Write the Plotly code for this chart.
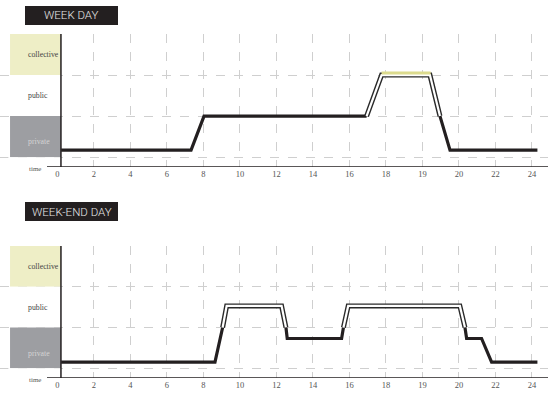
import plotly.graph_objects as go

# ---------------- data (x in axis units, y in level units) ----------------
tick_vals = [0, 2, 4, 6, 8, 10, 12, 14, 16, 18, 20, 22, 24, 26]
tick_text = ["0", "2", "4", "6", "8", "10", "12", "14", "16", "18", "19", "20", "22", "24"]
level_names = ["private", "public", "collective"]

# WEEK DAY
wd_solid1_x = [0.2, 7.32, 8.03, 16.94]
wd_solid1_y = [0.17, 0.17, 1.0, 1.0]
wd_double_x = [16.94, 17.76, 20.41, 20.96]
wd_double_y = [1.0, 2.0, 2.0, 1.0]
wd_solid2_x = [20.96, 21.51, 26.3]
wd_solid2_y = [1.0, 0.17, 0.17]
wd_coll_x = [17.76, 20.45]
wd_coll_y = [2.05, 2.05]

# WEEK-END DAY
we_solid1_x = [0.2, 8.63, 9.05]
we_solid1_y = [0.15, 0.15, 1.0]
we_double1_x = [9.05, 9.27, 12.28, 12.52]
we_double1_y = [1.0, 1.53, 1.53, 1.0]
we_solid2_x = [12.52, 12.59, 15.57, 15.67]
we_solid2_y = [1.0, 0.73, 0.73, 1.0]
we_double2_x = [15.67, 15.93, 22.05, 22.33]
we_double2_y = [1.0, 1.53, 1.53, 1.0]
we_solid3_x = [22.33, 22.42, 23.24, 23.79, 26.3]
we_solid3_y = [1.0, 0.73, 0.73, 0.15, 0.15]

# ---------------- styling ----------------
W, H = 548, 395
BLACK = "#231f20"
GRID = "#cfcfcf"
COLL = "#eeeec6"
PRIV = "#9d9ea2"
YEL = "#dcdb8e"
XMIN, XMAX = -3.15, 26.88
YMIN, YMAX = -0.24, 3.0
SERIF = "Liberation Serif, DejaVu Serif, serif"

def py(px):
    return 1 - px / H

fig = go.Figure()

def solid(x, y, xa, ya):
    fig.add_trace(go.Scatter(x=x, y=y, mode="lines", xaxis=xa, yaxis=ya,
                             line=dict(color=BLACK, width=3.2), hoverinfo="skip",
                             showlegend=False))

def double(x, y, xa, ya):
    fig.add_trace(go.Scatter(x=x, y=y, mode="lines", xaxis=xa, yaxis=ya,
                             line=dict(color="#2a2a2a", width=5), hoverinfo="skip",
                             showlegend=False))
    fig.add_trace(go.Scatter(x=x, y=y, mode="lines", xaxis=xa, yaxis=ya,
                             line=dict(color="white", width=2.2), hoverinfo="skip",
                             showlegend=False))

# week day
solid(wd_solid1_x, wd_solid1_y, "x", "y")
double(wd_double_x, wd_double_y, "x", "y")
solid(wd_solid2_x, wd_solid2_y, "x", "y")
fig.add_trace(go.Scatter(x=wd_coll_x, y=wd_coll_y, mode="lines", xaxis="x", yaxis="y",
                         line=dict(color=YEL, width=3), hoverinfo="skip", showlegend=False))
# week-end day
solid(we_solid1_x, we_solid1_y, "x2", "y2")
double(we_double1_x, we_double1_y, "x2", "y2")
solid(we_solid2_x, we_solid2_y, "x2", "y2")
double(we_double2_x, we_double2_y, "x2", "y2")
solid(we_solid3_x, we_solid3_y, "x2", "y2")

tickfont = dict(family=SERIF, size=8.5, color="#555")
xcommon = dict(range=[XMIN, XMAX], tickmode="array", tickvals=tick_vals, ticktext=tick_text,
               showgrid=True, gridcolor=GRID, griddash="dash", gridwidth=1,
               showline=False, zeroline=False, ticks="", tickfont=tickfont, fixedrange=True)
ycommon = dict(range=[YMIN, YMAX], tickmode="array", tickvals=[0, 1, 2, 3],
               showgrid=True, gridcolor=GRID, griddash="dash", gridwidth=1,
               showticklabels=False, showline=False, zeroline=False, ticks="", fixedrange=True)

fig.update_layout(
    width=W, height=H, margin=dict(l=0, r=0, t=0, b=0),
    paper_bgcolor="white", plot_bgcolor="white",
    xaxis=dict(domain=[0, 1], anchor="y", **xcommon),
    yaxis=dict(domain=[py(167), py(34)], anchor="x", **ycommon),
    xaxis2=dict(domain=[0, 1], anchor="y2", **xcommon),
    yaxis2=dict(domain=[py(378), py(246)], anchor="x2", **ycommon),
)

shapes = []
annots = []
for xr, yr, boxtop, title in [("x", "y", 6, "WEEK DAY"), ("x2", "y2", 202, "WEEK-END DAY")]:
    bx0, bx1 = -2.60, 0.19
    shapes += [
        dict(type="rect", xref=xr, yref=yr, x0=bx0, x1=bx1, y0=2, y1=3,
             fillcolor=COLL, line_width=0, layer="between"),
        dict(type="rect", xref=xr, yref=yr, x0=bx0, x1=bx1, y0=1, y1=2,
             fillcolor="white", line_width=0, layer="between"),
        dict(type="rect", xref=xr, yref=yr, x0=bx0, x1=bx1, y0=0, y1=1,
             fillcolor=PRIV, line_width=0, layer="between"),
        dict(type="rect", xref=xr, yref=yr, x0=bx0 - 0.1, x1=bx1, y0=YMIN, y1=0,
             fillcolor="white", line_width=0, layer="between"),
        # x axis line
        dict(type="line", xref=xr, yref=yr, x0=-0.575, x1=XMAX, y0=YMIN, y1=YMIN,
             line=dict(color=BLACK, width=1.5), layer="above"),
        # y axis line
        dict(type="line", xref=xr, yref=yr, x0=0.19, x1=0.19, y0=3, y1=-0.66,
             line=dict(color=BLACK, width=1.5), layer="above"),
        # title box
        dict(type="rect", xref="paper", yref="paper", x0=25 / W, x1=118 / W,
             y0=py(boxtop + 19), y1=py(boxtop), fillcolor=BLACK, line_width=0),
    ]
    annots.append(dict(xref="paper", yref="paper", x=71.5 / W, y=py(boxtop + 9.5),
                       text=title, showarrow=False, xanchor="center", yanchor="middle",
                       font=dict(family="Roboto, Liberation Sans, sans-serif", size=11.5,
                                 weight=300, color="#e6e6e6")))
    for yv, name, col in [(2.5, level_names[2], "#444"), (1.5, level_names[1], "#444"),
                          (0.37, level_names[0], "#d4d4d4")]:
        annots.append(dict(xref=xr, yref=yr, x=-1.72, y=yv, text=name, showarrow=False,
                           xanchor="left", yanchor="middle",
                           font=dict(family=SERIF, size=7.8, color=col)))
    annots.append(dict(xref=xr, yref=yr, x=-1.23, y=YMIN, yshift=-2, text="time",
                       showarrow=False, xanchor="center", yanchor="middle",
                       font=dict(family=SERIF, size=7, color="#555")))

fig.update_layout(shapes=shapes, annotations=annots)
fig.write_html("out.html", config={"displayModeBar": False},
               post_script="document.body.style.margin='0';document.body.style.overflow='hidden';")
